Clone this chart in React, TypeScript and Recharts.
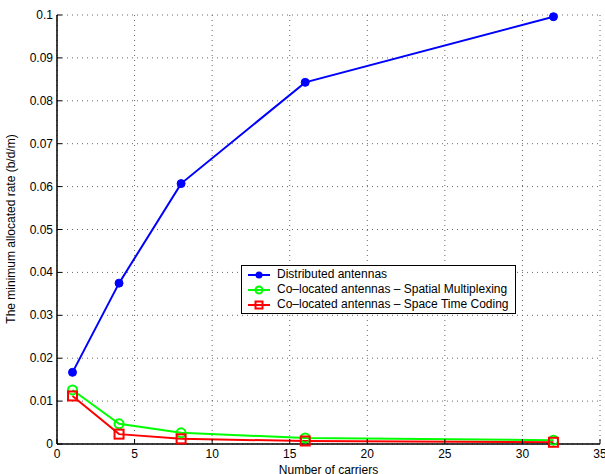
import React from 'react';
import { LineChart, Line, XAxis, YAxis, CartesianGrid } from 'recharts';

const carriers = [1, 4, 8, 16, 32];
const distributed = [0.0167, 0.0375, 0.0607, 0.0843, 0.0996];
const spatialMux = [0.0126, 0.0047, 0.0026, 0.0014, 0.0009];
const spaceTime = [0.0112, 0.0023, 0.0012, 0.0007, 0.0004];
const xTicks = [0, 5, 10, 15, 20, 25, 30, 35];
const yTicks = [0, 0.01, 0.02, 0.03, 0.04, 0.05, 0.06, 0.07, 0.08, 0.09, 0.1];
const yTickLabels = ['0', '0.01', '0.02', '0.03', '0.04', '0.05', '0.06', '0.07', '0.08', '0.09', '0.1'];

const seriesNames = [
  'Distributed antennas',
  'Co\u2013located antennas \u2013 Spatial Multiplexing',
  'Co\u2013located antennas \u2013 Space Time Coding',
];

const data = carriers.map((c, i) => ({
  x: c,
  d: distributed[i],
  sm: spatialMux[i],
  st: spaceTime[i],
}));

const FONT = '"Liberation Sans", Arial, Helvetica, sans-serif';
const FS = 12;

const BottomTick = (props: any) => {
  const { x, y, payload } = props;
  return (
    <g>
      <line x1={x} x2={x} y1={y} y2={y - 5} stroke="#000" strokeWidth={1} />
      <text x={x} y={y + 14} textAnchor="middle" fontSize={FS} fontFamily={FONT} fill="#000">
        {payload.value}
      </text>
    </g>
  );
};

const TopTick = (props: any) => {
  const { x, y } = props;
  return <line x1={x} x2={x} y1={y} y2={y + 5} stroke="#000" strokeWidth={1} />;
};

const LeftTick = (props: any) => {
  const { x, y, payload } = props;
  const idx = yTicks.indexOf(payload.value);
  return (
    <g>
      <line x1={x} x2={x + 5} y1={y} y2={y} stroke="#000" strokeWidth={1} />
      <text x={x - 4} y={y + 4} textAnchor="end" fontSize={FS} fontFamily={FONT} fill="#000">
        {idx >= 0 ? yTickLabels[idx] : payload.value}
      </text>
    </g>
  );
};

const RightTick = (props: any) => {
  const { x, y } = props;
  return <line x1={x} x2={x - 5} y1={y} y2={y} stroke="#000" strokeWidth={1} />;
};

const BlueDot = (props: any) => {
  const { cx, cy, index } = props;
  if (cx == null || cy == null) return <g key={index} />;
  return <circle key={index} cx={cx} cy={cy} r={4} fill="#0000ff" stroke="#0000ff" strokeWidth={1} />;
};

const GreenDot = (props: any) => {
  const { cx, cy, index } = props;
  if (cx == null || cy == null) return <g key={index} />;
  return <circle key={index} cx={cx} cy={cy} r={4.5} fill="none" stroke="#00ff00" strokeWidth={2} />;
};

const RedSquare = (props: any) => {
  const { cx, cy, index } = props;
  if (cx == null || cy == null) return <g key={index} />;
  return <rect key={index} x={cx - 4.5} y={cy - 4.5} width={9} height={9} fill="none" stroke="#ff0000" strokeWidth={2} />;
};

const legendColors = ['#0000ff', '#00ff00', '#ff0000'];

const LegendMarker = ({ i }: { i: number }) => {
  const c = legendColors[i];
  return (
    <svg width={26} height={14} style={{ display: 'block' }}>
      <line x1={2} x2={24} y1={7} y2={7} stroke={c} strokeWidth={2} />
      {i === 0 && <circle cx={13} cy={7} r={3.5} fill={c} />}
      {i === 1 && <circle cx={13} cy={7} r={3.5} fill="none" stroke={c} strokeWidth={2} />}
      {i === 2 && <rect x={9.5} y={3.5} width={7} height={7} fill="none" stroke={c} strokeWidth={2} />}
    </svg>
  );
};

const LegendBox = () => (
  <div
    style={{
      position: 'absolute',
      left: 241,
      top: 265,
      border: '1px solid #000',
      background: '#fff',
      padding: '1px 6px 1px 4px',
      fontFamily: FONT,
      fontSize: FS,
      lineHeight: '15px',
      color: '#000',
      whiteSpace: 'nowrap',
    }}
  >
    {seriesNames.map((n, i) => (
      <div key={n} style={{ display: 'flex', alignItems: 'center', height: 15 }}>
        <LegendMarker i={i} />
        <span style={{ marginLeft: 5 }}>{n}</span>
      </div>
    ))}
  </div>
);

export default function App() {
  return (
    <div style={{ position: 'absolute', left: 0, top: 0, width: 605, height: 474, background: '#fff' }}>
      <LineChart
        width={605}
        height={474}
        data={data}
        margin={{ top: 15, right: 5, bottom: 0, left: 0 }}
        style={{ fontFamily: FONT }}
      >
        <CartesianGrid
          xAxisId="bottom"
          yAxisId="left"
          stroke="#666"
          strokeDasharray="1 4"
          strokeWidth={1}
        />
        <XAxis
          xAxisId="bottom"
          dataKey="x"
          type="number"
          domain={[0, 35]}
          ticks={xTicks}
          height={30}
          tickSize={0}
          tickMargin={0}
          tickLine={false}
          tick={<BottomTick />}
          axisLine={{ stroke: '#000', strokeWidth: 1.5 }}
          interval={0}
          label={{
            value: 'Number of carriers',
            position: 'insideBottom',
            offset: 0,
            fontSize: FS,
            fill: '#000',
            fontFamily: FONT,
          }}
        />
        <XAxis
          xAxisId="top"
          orientation="top"
          dataKey="x"
          type="number"
          domain={[0, 35]}
          ticks={xTicks}
          height={0}
          tickSize={0}
          tickMargin={0}
          tickLine={false}
          tick={<TopTick />}
          axisLine={{ stroke: '#000', strokeWidth: 1.5 }}
          interval={0}
        />
        <YAxis
          yAxisId="left"
          type="number"
          domain={[0, 0.1]}
          ticks={yTicks}
          width={57}
          tickSize={0}
          tickMargin={0}
          tickLine={false}
          tick={<LeftTick />}
          axisLine={{ stroke: '#000', strokeWidth: 1.5 }}
          interval={0}
          label={{
            content: () => (
              <text
                x={15}
                y={229}
                transform="rotate(-90 15 229)"
                textAnchor="middle"
                fontSize={FS}
                fontFamily={FONT}
                fill="#000"
              >
                The minimum allocated rate (b/d/m)
              </text>
            ),
          }}
        />
        <YAxis
          yAxisId="right"
          orientation="right"
          type="number"
          domain={[0, 0.1]}
          ticks={yTicks}
          width={0}
          tickSize={0}
          tickMargin={0}
          tickLine={false}
          tick={<RightTick />}
          axisLine={{ stroke: '#000', strokeWidth: 1.5 }}
          interval={0}
        />
        <Line
          xAxisId="bottom"
          yAxisId="left"
          dataKey="d"
          name={seriesNames[0]}
          stroke="#0000ff"
          strokeWidth={2}
          dot={<BlueDot />}
          isAnimationActive={false}
        />
        <Line
          xAxisId="bottom"
          yAxisId="left"
          dataKey="sm"
          name={seriesNames[1]}
          stroke="#00ff00"
          strokeWidth={2}
          dot={<GreenDot />}
          isAnimationActive={false}
        />
        <Line
          xAxisId="bottom"
          yAxisId="left"
          dataKey="st"
          name={seriesNames[2]}
          stroke="#ff0000"
          strokeWidth={2}
          dot={<RedSquare />}
          isAnimationActive={false}
        />
      </LineChart>
      <LegendBox />
    </div>
  );
}
